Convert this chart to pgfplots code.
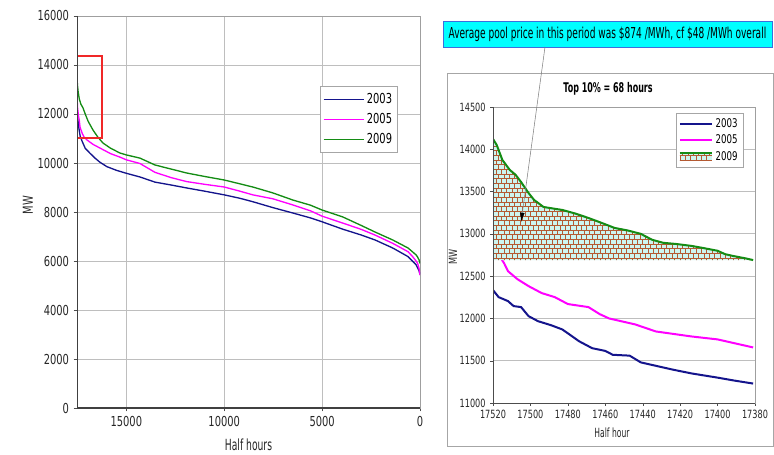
\documentclass[border=0pt]{standalone}
\usepackage{pgfplots}
\pgfplotsset{compat=1.18}
\usepackage{pgfplotstable}
\usepackage{fontspec}
\setmainfont{DejaVu Sans}[FakeStretch=0.72]
\newfontfamily\narrowfont{DejaVu Sans}[FakeStretch=0.6]
\usetikzlibrary{patterns,arrows.meta}

\definecolor{c03}{RGB}{20,20,140}
\definecolor{c05}{RGB}{255,0,255}
\definecolor{c09}{RGB}{20,140,20}
\definecolor{redbox}{RGB}{240,40,40}
\definecolor{brick}{RGB}{180,90,50}
\definecolor{paleC}{RGB}{205,245,240}
\definecolor{gridc}{RGB}{190,190,190}
\definecolor{callout}{RGB}{0,255,255}
\definecolor{calloutborder}{RGB}{60,110,220}

\pgfdeclarepatternformonly{minibricks}{\pgfqpoint{-0.5pt}{-0.5pt}}{\pgfqpoint{8.5pt}{7.5pt}}{\pgfqpoint{8pt}{7pt}}{%
  \pgfsetlinewidth{0.5pt}%
  \pgfpathmoveto{\pgfqpoint{0pt}{0pt}}\pgfpathlineto{\pgfqpoint{8pt}{0pt}}%
  \pgfpathmoveto{\pgfqpoint{0pt}{3.5pt}}\pgfpathlineto{\pgfqpoint{8pt}{3.5pt}}%
  \pgfpathmoveto{\pgfqpoint{0pt}{0pt}}\pgfpathlineto{\pgfqpoint{0pt}{3.5pt}}%
  \pgfpathmoveto{\pgfqpoint{4pt}{0pt}}\pgfpathlineto{\pgfqpoint{4pt}{3.5pt}}%
  \pgfpathmoveto{\pgfqpoint{2pt}{3.5pt}}\pgfpathlineto{\pgfqpoint{2pt}{7pt}}%
  \pgfpathmoveto{\pgfqpoint{6pt}{3.5pt}}\pgfpathlineto{\pgfqpoint{6pt}{7pt}}%
  \pgfusepath{stroke}}

% ---------- left panel: full year load duration ----------
\pgfplotstableread{
x y
17520 12300
17480 11800
17420 11400
17360 11100
17265 10900
17100 10600
16857 10400
16600 10200
16347 10030
15990 9850
15500 9700
15000 9580
14306 9430
13540 9220
12700 9100
11908 8980
11000 8850
10000 8700
9200 8560
8540 8420
7520 8180
6500 7960
5600 7760
5000 7600
3950 7300
3000 7060
2300 6860
1390 6530
612 6180
377 5990
200 5850
122 5720
50 5600
0 5450
}\LA
\pgfplotstableread{
x y
17520 12700
17490 12250
17450 11950
17400 11720
17367 11470
17250 11200
17150 11050
17010 10940
16700 10760
16347 10610
15800 10380
15326 10240
15000 10130
14306 9980
13540 9620
12700 9400
11908 9240
11000 9130
10000 9020
9200 8850
8540 8700
7520 8540
6500 8290
5600 8050
5000 7830
3950 7550
3000 7290
2300 7060
1390 6720
612 6380
377 6180
200 6000
122 5900
50 5700
0 5420
}\LB
\pgfplotstableread{
x y
17520 13600
17500 13200
17460 12900
17400 12600
17320 12400
17214 12250
17100 12000
16950 11700
16704 11347
16450 11050
16194 10816
15800 10600
15326 10408
15000 10330
14306 10200
13540 9920
12700 9750
11908 9590
11000 9450
10000 9306
9200 9150
8540 9020
7520 8780
6500 8490
5600 8280
5000 8080
3950 7800
3000 7450
2300 7184
1390 6857
612 6531
377 6370
200 6250
122 6160
50 6050
0 5900
}\LC
\pgfplotstableread{
x y
17520 14370
16250 14370
16250 11020
17520 11020
}\RedBox

% ---------- right panel: top half hours ----------
\pgfplotstableread{
x y
17520 12335
17517 12252
17512 12205
17509 12146
17505 12134
17501 12027
17496 11968
17489 11920
17483 11870
17480 11824
17474 11730
17467 11648
17460 11616
17456 11570
17447 11560
17441 11480
17433 11440
17424 11395
17414 11350
17400 11300
17391 11265
17381 11230
}\RA
\pgfplotstableread{
x y
17520 13050
17518 12850
17516 12720
17514 12650
17512 12559
17507 12465
17501 12382
17494 12300
17487 12252
17480 12170
17469 12134
17463 12051
17458 12000
17444 11929
17433 11846
17414 11787
17400 11752
17381 11657
}\RB
\pgfplotstableread{
x y
17520 14122
17518 14050
17515 13874
17511 13755
17508 13700
17505 13613
17501 13483
17498 13400
17493 13318
17488 13300
17483 13283
17476 13240
17469 13188
17462 13130
17455 13070
17448 13040
17441 13000
17435 12930
17429 12894
17422 12880
17414 12858
17407 12830
17400 12800
17396 12760
17392 12740
17385 12710
17381 12690
}\RC
\pgfplotstableread{
x y
17520 14122
17518 14050
17515 13874
17511 13755
17508 13700
17505 13613
17501 13483
17498 13400
17493 13318
17488 13300
17483 13283
17476 13240
17469 13188
17462 13130
17455 13070
17448 13040
17441 13000
17435 12930
17429 12894
17422 12880
17414 12858
17407 12830
17400 12800
17396 12760
17392 12740
17385 12710
17381 12690
17381 12690
17520 12690
}\RCfill

\begin{document}
\begin{tikzpicture}
\path[use as bounding box] (0pt,0pt) rectangle (580.5pt,340.5pt);

% ================= LEFT =================
\begin{axis}[
  at={(57.75pt,34.5pt)}, anchor=south west, scale only axis,
  width=257.25pt, height=294pt,
  xmin=-17520, xmax=0, ymin=0, ymax=16000,
  scaled ticks=false,
  xtick={-15000,-10000,-5000,0}, xticklabels={15000,10000,5000,0},
  ytick={0,2000,4000,6000,8000,10000,12000,14000,16000},
  grid=major, grid style={gridc, line width=0.6pt},
  axis line style={gray!75, line width=0.6pt},
  tick align=outside, major tick length=2.5pt, xtick pos=bottom, ytick pos=left,
  tick style={black!70},
  /pgf/number format/1000 sep={}, /pgf/number format/assume math mode=true,
  ticklabel style={font=\fontsize{10.3}{12}\selectfont, text=black!85},
  xlabel={Half hours}, ylabel={MW},
  xlabel style={at={(axis description cs:0.5,-0.094)}, anchor=center, font=\narrowfont\fontsize{11.5}{13}\selectfont, text=black!85},
  ylabel style={at={(axis description cs:-0.143,0.518)}, anchor=center, font=\fontsize{10.3}{12}\selectfont, text=black!85},
  legend style={at={(axis description cs:0.708,0.821)}, anchor=north west, draw=gray!70, line width=0.6pt, fill=white,
    font=\fontsize{10.3}{12}\selectfont, inner xsep=2pt, inner ysep=3pt, row sep=2pt, cells={anchor=west}},
]
\addplot[draw=c03, line width=1pt, legend image code/.code={\draw[draw=c03, line width=1pt] (0pt,0pt) -- (30pt,0pt);}] table[x expr=-\thisrowno{0}, y index=1] {\LA};
\addplot[draw=c05, line width=1pt, legend image code/.code={\draw[draw=c05, line width=1pt] (0pt,0pt) -- (30pt,0pt);}] table[x expr=-\thisrowno{0}, y index=1] {\LB};
\addplot[draw=c09, line width=1pt, legend image code/.code={\draw[draw=c09, line width=1pt] (0pt,0pt) -- (30pt,0pt);}] table[x expr=-\thisrowno{0}, y index=1] {\LC};
\addplot[draw=redbox, line width=1pt, forget plot] table[x expr=-\thisrowno{0}, y index=1] {\RedBox};
\legend{2003,2005,2009}
\draw[black!75, line width=0.8pt] (axis description cs:0,1) -- (axis description cs:0,0) -- (axis description cs:1,0);
\end{axis}

% ================= RIGHT =================
\draw[gray!70, fill=white, line width=0.6pt] (335.25pt,6pt) rectangle (579.75pt,285.75pt);
\begin{axis}[
  at={(369.75pt,38.25pt)}, anchor=south west, scale only axis,
  width=196.5pt, height=222pt,
  xmin=-17520, xmax=-17380, ymin=11000, ymax=14500,
  scaled ticks=false,
  xtick={-17520,-17500,-17480,-17460,-17440,-17420,-17400,-17380},
  xticklabels={17520,17500,17480,17460,17440,17420,17400,17380},
  ytick={11000,11500,12000,12500,13000,13500,14000,14500},
  ymajorgrids, grid style={gridc, line width=0.6pt},
  axis line style={gray!75, line width=0.6pt},
  tick align=outside, major tick length=2pt, xtick pos=bottom, ytick pos=left,
  tick style={black!70},
  /pgf/number format/1000 sep={}, /pgf/number format/assume math mode=true,
  ticklabel style={font=\fontsize{8.5}{10}\selectfont, text=black!85},
  title={Top 10\% = 68 hours},
  title style={at={(axis description cs:0.439,1.034)}, anchor=center, font=\narrowfont\bfseries\fontsize{10}{12}\selectfont},
  xlabel={Half hour}, ylabel={MW},
  xlabel style={at={(axis description cs:0.454,-0.101)}, anchor=center, font=\narrowfont\fontsize{9.5}{11}\selectfont, text=black!85},
  ylabel style={at={(axis description cs:-0.153,0.493)}, anchor=center, font=\fontsize{8.5}{10}\selectfont, text=black!85},
  legend style={at={(axis description cs:0.698,0.98)}, anchor=north west, draw=gray!70, line width=0.6pt, fill=white,
    font=\fontsize{9}{10}\selectfont, inner xsep=2pt, inner ysep=2pt, row sep=0pt, cells={anchor=west}},
  legend image code/.code={\draw[#1, line width=1.5pt] (0pt,0pt) -- (24pt,0pt);},
]
\addplot[c03, line width=1.5pt] table[x expr=-\thisrowno{0}, y index=1] {\RA};
\addplot[c05, line width=1.5pt] table[x expr=-\thisrowno{0}, y index=1] {\RB};
\addplot[draw=none, fill=paleC, forget plot] table[x expr=-\thisrowno{0}, y index=1] {\RCfill};
\addplot[draw=none, pattern=minibricks, pattern color=brick,
  legend image code/.code={\fill[paleC] (0pt,-3pt) rectangle (24pt,3pt);
    \fill[pattern=minibricks, pattern color=brick] (0pt,-3pt) rectangle (24pt,3pt);
    \draw[c09, line width=1.5pt] (0pt,3pt) -- (24pt,3pt);}]
  table[x expr=-\thisrowno{0}, y index=1] {\RCfill};
\addplot[c09, line width=1.5pt, forget plot] table[x expr=-\thisrowno{0}, y index=1] {\RC};
\legend{2003,2005,2009}
\coordinate (tip) at (axis cs:-17505,13140);
\draw[black!70, line width=0.7pt] (axis description cs:0,1) -- (axis description cs:0,0) -- (axis description cs:1,0);
\end{axis}

% callout
\node[draw=calloutborder, fill=callout, line width=0.6pt, minimum width=246.75pt, minimum height=19.5pt, inner sep=0pt,
  font=\narrowfont\fontsize{11.3}{13}\selectfont] at (455.6pt,315pt)
  {Average pool price in this period was \$874 /MWh, cf \$48 /MWh overall};
\draw[gray, line width=0.4pt, -{Latex[black,length=7pt,width=3.5pt]}] (408.75pt,305.25pt) -- (tip);
\end{tikzpicture}
\end{document}
